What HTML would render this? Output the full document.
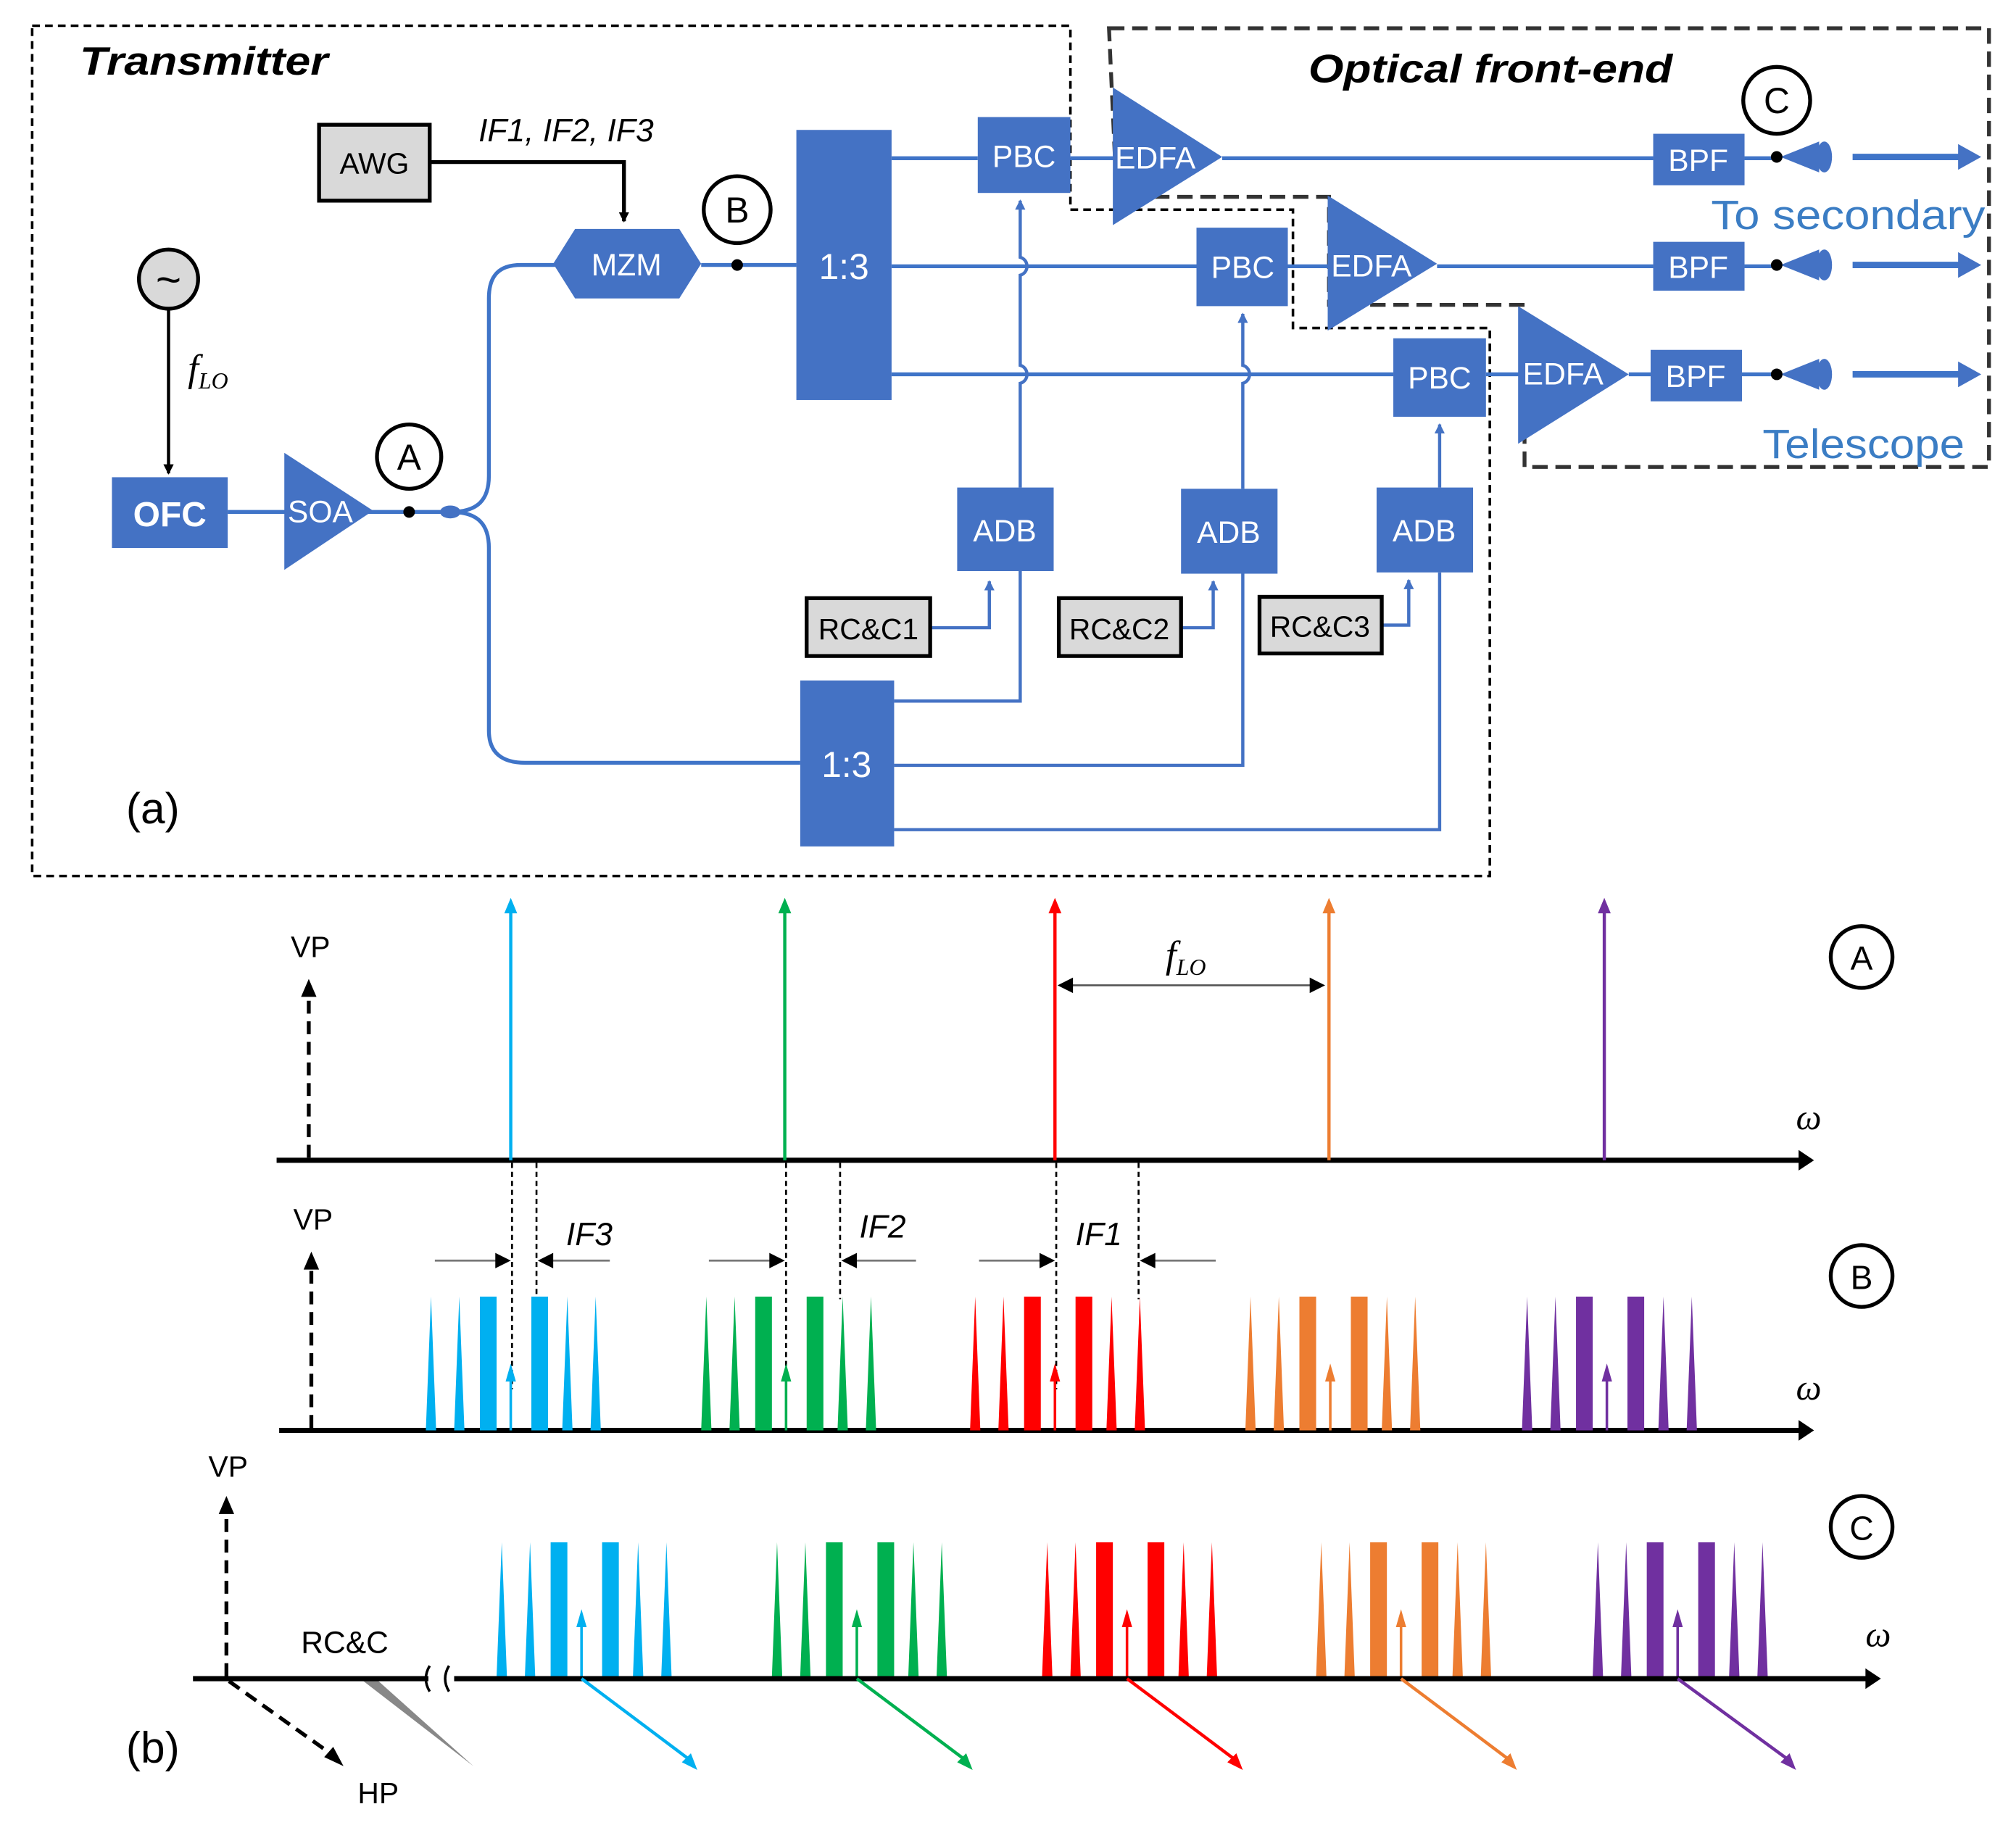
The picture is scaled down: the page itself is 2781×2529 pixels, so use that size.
<!DOCTYPE html>
<html><head><meta charset="utf-8"><style>html,body{margin:0;padding:0;background:#fff}svg{display:block}</style></head>
<body>
<svg width="2781" height="2529" viewBox="0 0 1567 1425" preserveAspectRatio="none" xmlns="http://www.w3.org/2000/svg" font-family="Liberation Sans, sans-serif">
<defs>
<marker id="ab" markerWidth="8" markerHeight="8" refX="7" refY="4" orient="auto" markerUnits="userSpaceOnUse"><path d="M0,0 L8,4 L0,8z" fill="#000"/></marker>
<marker id="abl" markerWidth="8" markerHeight="8" refX="7" refY="4" orient="auto" markerUnits="userSpaceOnUse"><path d="M0,0 L8,4 L0,8z" fill="#4472C4"/></marker>
<g id="cl">
<path d="M-66,0 L-62,-104 L-58,0z M-44,0 L-40,-104 L-36,0z M40,0 L44,-104 L48,0z M62,0 L66,-104 L70,0z"/>
<rect x="-24" y="-104" width="13" height="104"/>
<rect x="16" y="-104" width="13" height="104"/>
<rect x="-1" y="-45" width="2" height="45"/>
<path d="M-4,-38 L0,-52 L4,-38z"/>
</g>
</defs>

<!-- ===== (a) ===== -->
<path d="M25,20 H832 V163 H1005 V255 H1158 V681 H25 Z" fill="none" stroke="#000" stroke-width="2" stroke-dasharray="6,4"/>
<path d="M862,22 H1546 V363 H1185 V237 H1033 V153 H868 Z" fill="none" stroke="#333" stroke-width="3" stroke-dasharray="12,6"/>
<text x="62" y="58" font-size="31" font-weight="bold" font-style="italic" textLength="193" lengthAdjust="spacingAndGlyphs">Transmitter</text>
<text x="1017" y="64" font-size="31" font-weight="bold" font-style="italic" textLength="283" lengthAdjust="spacingAndGlyphs">Optical front-end</text>

<!-- LO -->
<circle cx="131" cy="217" r="23" fill="#d9d9d9" stroke="#000" stroke-width="3"/>
<text x="131" y="229" font-size="34" text-anchor="middle">~</text>
<line x1="131" y1="240" x2="131" y2="368" stroke="#000" stroke-width="2.5" marker-end="url(#ab)"/>
<text x="146" y="296" font-size="30" font-style="italic" font-family="Liberation Serif, serif">f<tspan font-size="18" dy="6">LO</tspan></text>

<!-- fibers -->
<g fill="none" stroke="#3F74C8" stroke-width="3">
<path d="M177,398 H350"/>
<path d="M350,398 C372,398 380,388 380,370 V232 C380,214 388,206 405,206 H432"/>
<path d="M350,398 C372,398 380,408 380,426 V568 C380,585 390,593 408,593 H622"/>
<path d="M545,206 H619"/>
<path d="M693,123 H760 M832,123 H870 M950,123 H1285 M1356,123 H1381"/>
<path d="M693,207 H930 M1001,207 H1035 M1117,207 H1285 M1356,207 H1381"/>
<path d="M693,291 H1083 M1155,291 H1182 M1266,291 H1283 M1354,291 H1381"/>
<path d="M1440,122 H1525 M1440,206 H1525 M1440,291 H1525" stroke-width="5"/>
</g>
<g fill="#4472C4">
<path d="M1522,112 L1540,122 L1522,132z M1522,196 L1540,206 L1522,216z M1522,281 L1540,291 L1522,301z"/>
</g>
<g fill="none" stroke="#4472C4" stroke-width="2.5">
<path d="M793,379 V298 C800,296 800,286 793,284 V214 C800,212 800,202 793,200 V156" marker-end="url(#abl)"/>
<path d="M966,380 V298 C973,296 973,286 966,284 V244" marker-end="url(#abl)"/>
<path d="M1119,379 V330" marker-end="url(#abl)"/>
<path d="M723,488 H769 V452" marker-end="url(#abl)"/>
<path d="M918,488 H943 V452" marker-end="url(#abl)"/>
<path d="M1074,486 H1095 V451" marker-end="url(#abl)"/>
<path d="M695,545 H793 V444"/>
<path d="M695,595 H966 V446"/>
<path d="M695,645 H1119 V445"/>
</g>

<!-- blocks -->
<g fill="#4472C4">
<rect x="87" y="371" width="90" height="55"/>
<path d="M221,352 L221,443 L290,397z"/>
<path d="M430,205 L447,178 L528,178 L545,205 L528,232 L447,232z"/>
<rect x="619" y="101" width="74" height="210"/>
<rect x="622" y="529" width="73" height="129"/>
<rect x="760" y="91" width="72" height="59"/>
<rect x="930" y="177" width="71" height="61"/>
<rect x="1083" y="263" width="72" height="61"/>
<path d="M865,68 L865,175 L950,122z"/>
<path d="M1032,152 L1032,257 L1117,205z"/>
<path d="M1180,238 L1180,345 L1266,291z"/>
<rect x="1285" y="104" width="71" height="40"/>
<rect x="1285" y="188" width="71" height="38"/>
<rect x="1283" y="272" width="71" height="40"/>
<rect x="744" y="379" width="75" height="65"/>
<rect x="918" y="380" width="75" height="66"/>
<rect x="1070" y="379" width="75" height="66"/>
<ellipse cx="350" cy="398" rx="8" ry="5"/>
<path d="M1384,122 L1414,110 L1414,134z M1384,206 L1414,194 L1414,218z M1384,291 L1414,279 L1414,303z"/>
<ellipse cx="1418" cy="122" rx="6" ry="12"/><ellipse cx="1418" cy="206" rx="6" ry="12"/><ellipse cx="1418" cy="291" rx="6" ry="12"/>
</g>
<g fill="#000"><circle cx="318" cy="398" r="4.5"/><circle cx="573" cy="206" r="4.5"/>
<circle cx="1381" cy="122" r="4.5"/><circle cx="1381" cy="206" r="4.5"/><circle cx="1381" cy="291" r="4.5"/></g>

<g fill="#fff" font-size="24" text-anchor="middle">
<text x="132" y="409" font-weight="bold" font-size="27">OFC</text>
<text x="249" y="406">SOA</text>
<text x="487" y="214">MZM</text>
<text x="656" y="217" font-size="28">1:3</text>
<text x="658" y="604" font-size="28">1:3</text>
<text x="796" y="130">PBC</text>
<text x="966" y="216">PBC</text>
<text x="1119" y="302">PBC</text>
<text x="898" y="131">EDFA</text>
<text x="1066" y="215">EDFA</text>
<text x="1215" y="299">EDFA</text>
<text x="1320" y="133">BPF</text>
<text x="1320" y="216">BPF</text>
<text x="1318" y="301">BPF</text>
<text x="781" y="421">ADB</text>
<text x="955" y="422">ADB</text>
<text x="1107" y="421">ADB</text>
</g>

<g fill="#d9d9d9" stroke="#000" stroke-width="3">
<rect x="248" y="97" width="86" height="59"/>
<rect x="627" y="465" width="96" height="45"/>
<rect x="823" y="465" width="95" height="45"/>
<rect x="979" y="464" width="95" height="44"/>
</g>
<g font-size="23" text-anchor="middle">
<text x="291" y="135">AWG</text>
<text x="675" y="497">RC&amp;C1</text>
<text x="870" y="497">RC&amp;C2</text>
<text x="1026" y="495">RC&amp;C3</text>
</g>
<path d="M334,126 H485 V172" fill="none" stroke="#000" stroke-width="3" marker-end="url(#ab)"/>
<text x="440" y="110" font-size="25" font-style="italic" text-anchor="middle">IF1, IF2, IF3</text>

<g fill="#fff" stroke="#000" stroke-width="3">
<circle cx="318" cy="355" r="25"/><circle cx="573" cy="163" r="26"/><circle cx="1381" cy="78" r="26"/>
</g>
<g font-size="28" text-anchor="middle">
<text x="318" y="365">A</text><text x="573" y="173">B</text><text x="1381" y="88">C</text>
</g>
<text x="1330" y="178" font-size="32" fill="#3B7DC4" textLength="213" lengthAdjust="spacingAndGlyphs">To secondary</text>
<text x="1370" y="356" font-size="32" fill="#3B7DC4" textLength="157" lengthAdjust="spacingAndGlyphs">Telescope</text>
<text x="98" y="640" font-size="34">(a)</text>

<!-- ===== (b) spectra ===== -->
<line x1="215" y1="902" x2="1400" y2="902" stroke="#000" stroke-width="4"/>
<path d="M1398,894 L1410,902 L1398,910z"/>
<line x1="240" y1="900" x2="240" y2="772" stroke="#000" stroke-width="3" stroke-dasharray="10,6"/>
<path d="M234,775 L240,761 L246,775z"/>
<text x="226" y="744" font-size="23">VP</text>
<g stroke-width="2.5">
<line x1="397" y1="902" x2="397" y2="706" stroke="#00B0F0"/><path d="M392,710 L397,698 L402,710z" fill="#00B0F0"/>
<line x1="610" y1="902" x2="610" y2="706" stroke="#00B050"/><path d="M605,710 L610,698 L615,710z" fill="#00B050"/>
<line x1="820" y1="902" x2="820" y2="706" stroke="#FF0000"/><path d="M815,710 L820,698 L825,710z" fill="#FF0000"/>
<line x1="1033" y1="902" x2="1033" y2="706" stroke="#ED7D31"/><path d="M1028,710 L1033,698 L1038,710z" fill="#ED7D31"/>
<line x1="1247" y1="902" x2="1247" y2="706" stroke="#7030A0"/><path d="M1242,710 L1247,698 L1252,710z" fill="#7030A0"/>
</g>
<line x1="830" y1="766" x2="1020" y2="766" stroke="#555" stroke-width="1.5"/>
<path d="M822,766 L834,760 L834,772z M1030,766 L1018,760 L1018,772z"/>
<text x="906" y="752" font-size="30" font-style="italic" font-family="Liberation Serif, serif">f<tspan font-size="18" dy="6">LO</tspan></text>
<text x="1396" y="878" font-size="28" font-style="italic" font-family="Liberation Serif, serif">ω</text>
<circle cx="1447" cy="744" r="24" fill="#fff" stroke="#000" stroke-width="3"/><text x="1447" y="754" font-size="26" text-anchor="middle">A</text>

<g stroke="#000" stroke-width="1.5" stroke-dasharray="4,3">
<line x1="398" y1="904" x2="398" y2="1080"/><line x1="417" y1="904" x2="417" y2="1010"/>
<line x1="611" y1="904" x2="611" y2="1080"/><line x1="653" y1="904" x2="653" y2="1010"/>
<line x1="821" y1="904" x2="821" y2="1080"/><line x1="885" y1="904" x2="885" y2="1010"/>
</g>
<g stroke="#777" stroke-width="1.5">
<line x1="338" y1="980" x2="390" y2="980"/><line x1="425" y1="980" x2="474" y2="980"/>
<line x1="551" y1="980" x2="603" y2="980"/><line x1="661" y1="980" x2="712" y2="980"/>
<line x1="761" y1="980" x2="813" y2="980"/><line x1="893" y1="980" x2="945" y2="980"/>
</g>
<path d="M397,980 L385,974 L385,986z M418,980 L430,974 L430,986z M610,980 L598,974 L598,986z M654,980 L666,974 L666,986z M820,980 L808,974 L808,986z M886,980 L898,974 L898,986z"/>
<g font-size="25" font-style="italic"><text x="440" y="968">IF3</text><text x="668" y="962">IF2</text><text x="836" y="968">IF1</text></g>

<line x1="217" y1="1112" x2="1400" y2="1112" stroke="#000" stroke-width="4"/>
<path d="M1398,1104 L1410,1112 L1398,1120z"/>
<line x1="242" y1="1110" x2="242" y2="984" stroke="#000" stroke-width="3" stroke-dasharray="10,6"/>
<path d="M236,987 L242,973 L248,987z"/>
<text x="228" y="956" font-size="23">VP</text>
<use href="#cl" x="397" y="1112" fill="#00B0F0"/>
<use href="#cl" x="611" y="1112" fill="#00B050"/>
<use href="#cl" x="820" y="1112" fill="#FF0000"/>
<use href="#cl" x="1034" y="1112" fill="#ED7D31"/>
<use href="#cl" x="1249" y="1112" fill="#7030A0"/>
<text x="1396" y="1088" font-size="28" font-style="italic" font-family="Liberation Serif, serif">ω</text>
<circle cx="1447" cy="992" r="24" fill="#fff" stroke="#000" stroke-width="3"/><text x="1447" y="1002" font-size="26" text-anchor="middle">B</text>

<path d="M280,1305 L292,1305 L368,1373 Z" fill="#888"/>
<line x1="150" y1="1305" x2="1452" y2="1305" stroke="#000" stroke-width="4"/>
<rect x="333" y="1295" width="20" height="20" fill="#fff"/>
<path d="M334,1295 Q328,1305 334,1315 M349,1295 Q343,1305 349,1315" fill="none" stroke="#000" stroke-width="2"/>
<path d="M1450,1297 L1462,1305 L1450,1313z"/>
<line x1="176" y1="1303" x2="176" y2="1174" stroke="#000" stroke-width="3" stroke-dasharray="10,6"/>
<path d="M170,1177 L176,1163 L182,1177z"/>
<line x1="178" y1="1307" x2="258" y2="1364" stroke="#000" stroke-width="3" stroke-dasharray="10,6"/>
<path d="M252,1366 L267,1373 L259,1358z"/>
<text x="162" y="1148" font-size="23">VP</text>
<text x="234" y="1285" font-size="24">RC&amp;C</text>
<text x="278" y="1402" font-size="23">HP</text>
<text x="98" y="1370" font-size="34">(b)</text>
<use href="#cl" x="452" y="1303" fill="#00B0F0"/>
<use href="#cl" x="666" y="1303" fill="#00B050"/>
<use href="#cl" x="876" y="1303" fill="#FF0000"/>
<use href="#cl" x="1089" y="1303" fill="#ED7D31"/>
<use href="#cl" x="1304" y="1303" fill="#7030A0"/>
<g stroke-width="2.5" fill="none">
<line x1="452" y1="1305" x2="536" y2="1368" stroke="#00B0F0"/>
<line x1="666" y1="1305" x2="750" y2="1368" stroke="#00B050"/>
<line x1="876" y1="1305" x2="960" y2="1368" stroke="#FF0000"/>
<line x1="1089" y1="1305" x2="1173" y2="1368" stroke="#ED7D31"/>
<line x1="1304" y1="1305" x2="1390" y2="1368" stroke="#7030A0"/>
</g>
<path d="M530,1370 L542,1376 L537,1363z" fill="#00B0F0"/>
<path d="M744,1370 L756,1376 L751,1363z" fill="#00B050"/>
<path d="M954,1370 L966,1376 L961,1363z" fill="#FF0000"/>
<path d="M1167,1370 L1179,1376 L1174,1363z" fill="#ED7D31"/>
<path d="M1384,1370 L1396,1376 L1391,1363z" fill="#7030A0"/>
<text x="1450" y="1280" font-size="28" font-style="italic" font-family="Liberation Serif, serif">ω</text>
<circle cx="1447" cy="1187" r="24" fill="#fff" stroke="#000" stroke-width="3"/><text x="1447" y="1197" font-size="26" text-anchor="middle">C</text>
</svg>
</body></html>
